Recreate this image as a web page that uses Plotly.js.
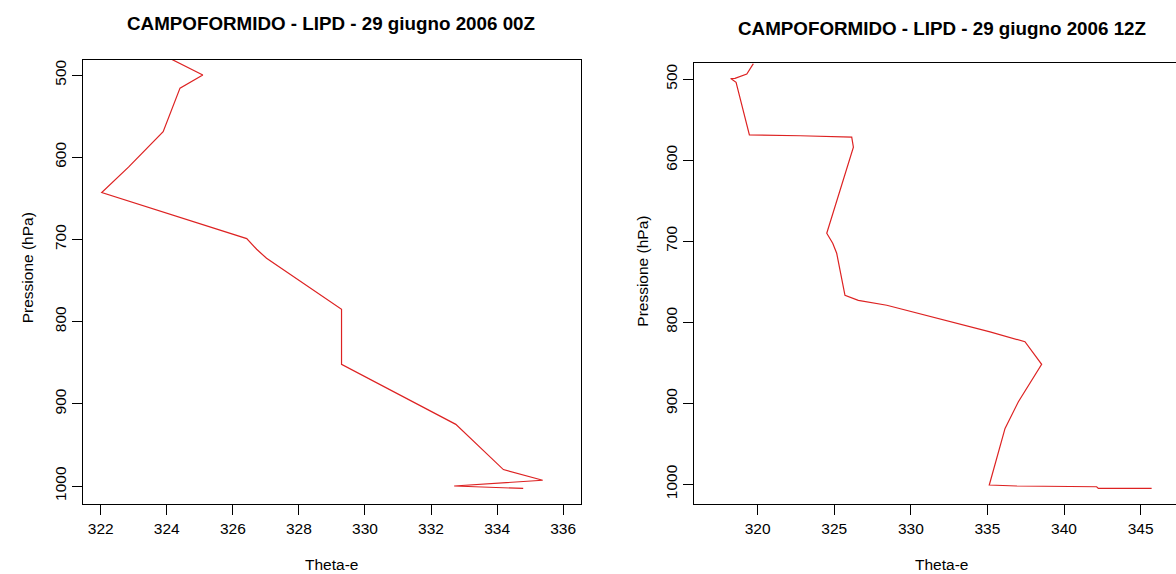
<!DOCTYPE html>
<html><head><meta charset="utf-8">
<script src="https://cdn.plot.ly/plotly-3.0.1.min.js"></script>
<style>html,body{margin:0;padding:0;background:#fff;overflow:hidden}</style>
</head><body><div id="chart" style="width:1176px;height:574px"></div>
<script>
// 29 giugno 2006 00Z
const thetaE00 = [324.15, 325.09, 324.40, 323.89, 322.84, 322.03, 326.42, 326.72, 327.02, 329.29, 329.29, 332.75, 334.19, 335.38, 332.70, 334.79];
const pres00   = [481, 500, 516, 569, 612, 643, 699, 712, 723, 785, 852, 925, 980, 993, 1000, 1003];
// 29 giugno 2006 12Z
const thetaE12 = [319.72, 319.29, 318.52, 318.24, 318.59, 319.46, 322.77, 326.14, 326.25, 324.51, 324.90, 325.16, 325.70, 326.57, 328.43, 335.17, 337.45, 338.54, 337.02, 336.15, 335.12, 336.91, 342.13, 342.24, 345.72];
const pres12   = [481, 493.8, 499.2, 499.5, 504, 569, 570, 571.6, 584, 690.3, 702.6, 715, 766.8, 773, 779.1, 812, 824.1, 852, 898.1, 931, 1000.9, 1002.1, 1003, 1005, 1005];

const xTicks00 = [322, 324, 326, 328, 330, 332, 334, 336];
const xTicks12 = [320, 325, 330, 335, 340, 345];
const yTicks = [500, 600, 700, 800, 900, 1000];

const title00 = 'CAMPOFORMIDO - LIPD - 29 giugno 2006 00Z';
const title12 = 'CAMPOFORMIDO - LIPD - 29 giugno 2006 12Z';
const xLabel = 'Theta-e';
const yLabel = 'Pressione (hPa)';

const W = 1176, H = 574;
const px = v => v / W;
const py = v => 1 - v / H;
const FONT = 'Liberation Sans, Arial, sans-serif';
const tickFont = {family: FONT, size: 15.5, color: '#000'};
const lineColor = '#dd2222';

const traces = [
  {x: thetaE00, y: pres00, xaxis: 'x', yaxis: 'y', type: 'scatter', mode: 'lines',
   line: {color: lineColor, width: 1.2}, hoverinfo: 'skip'},
  {x: thetaE12, y: pres12, xaxis: 'x2', yaxis: 'y2', type: 'scatter', mode: 'lines',
   line: {color: lineColor, width: 1.2}, hoverinfo: 'skip'}
];

const axCommon = {
  showgrid: false, zeroline: false, showline: true, linecolor: '#000', linewidth: 1,
  ticks: 'outside', ticklen: 10, tickcolor: '#000', tickwidth: 1,
  tickfont: tickFont, tickmode: 'array'
};

const layout = {
  width: W, height: H, autosize: false,
  margin: {l: 0, r: 0, t: 0, b: 0, pad: 0},
  paper_bgcolor: '#fff', plot_bgcolor: '#fff',
  showlegend: false,
  xaxis: Object.assign({}, axCommon, {
    domain: [px(82.9), px(581)], range: [321.46, 336.54], anchor: 'y',
    tickvals: xTicks00, ticktext: xTicks00.map(String), mirror: true
  }),
  yaxis: Object.assign({}, axCommon, {
    domain: [py(504), py(60)], range: [1021.9, 481.75], anchor: 'x',
    tickvals: yTicks, ticktext: yTicks.map(String), tickangle: -90, mirror: true
  }),
  xaxis2: Object.assign({}, axCommon, {
    domain: [px(694.4), 1], range: [315.87, 347.31], anchor: 'y2',
    tickvals: xTicks12, ticktext: xTicks12.map(String), mirror: true
  }),
  yaxis2: Object.assign({}, axCommon, {
    domain: [py(504), py(63.3)], range: [1024.3, 480.6], anchor: 'x2',
    tickvals: yTicks, ticktext: yTicks.map(String), tickangle: -90, mirror: false
  }),
  annotations: [
    {text: '<b>' + title00 + '</b>', xref: 'paper', yref: 'paper', x: px(331), y: py(24),
     xanchor: 'center', yanchor: 'middle', showarrow: false, font: {family: FONT, size: 18.8, color: '#000'}},
    {text: '<b>' + title12 + '</b>', xref: 'paper', yref: 'paper', x: px(941.5), y: py(28),
     xanchor: 'center', yanchor: 'middle', showarrow: false, font: {family: FONT, size: 18.8, color: '#000'}},
    {text: xLabel, xref: 'paper', yref: 'paper', x: px(331), y: py(564),
     xanchor: 'center', yanchor: 'middle', showarrow: false, font: tickFont},
    {text: xLabel, xref: 'paper', yref: 'paper', x: px(941), y: py(564),
     xanchor: 'center', yanchor: 'middle', showarrow: false, font: tickFont},
    {text: yLabel, xref: 'paper', yref: 'paper', x: px(28.3), y: py(268), textangle: -90,
     xanchor: 'center', yanchor: 'middle', showarrow: false, font: tickFont},
    {text: yLabel, xref: 'paper', yref: 'paper', x: px(641.7), y: py(271), textangle: -90,
     xanchor: 'center', yanchor: 'middle', showarrow: false, font: tickFont}
  ]
};

Plotly.newPlot('chart', traces, layout, {displayModeBar: false, staticPlot: true});
</script>
</body></html>
